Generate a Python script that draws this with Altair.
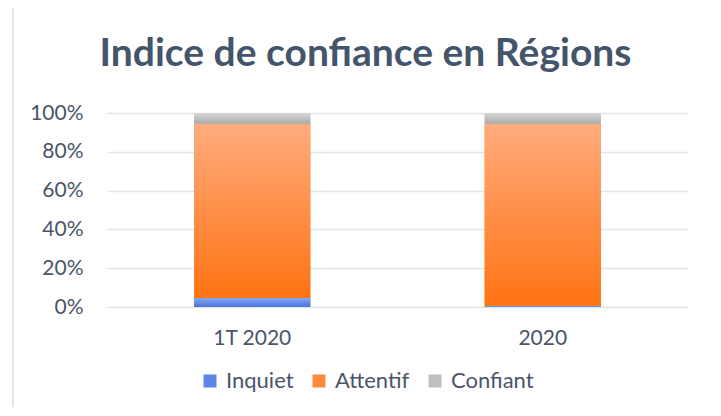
import altair as alt
import pandas as pd

periodes = ["1T 2020", "2020"]
series = ["Inquiet", "Attentif", "Confiant"]
inquiet = [4.6, 0.6]
attentif = [89.9, 93.9]
confiant = [5.5, 5.5]

solid = ["#5F86E6", "#FF8A3D", "#BFBFBF"]
grad_top = ["#86A7F6", "#FFAB7D", "#D9D9D9"]
grad_bot = ["#4A73D9", "#FF7313", "#A9A9A9"]

rows = []
for i, p in enumerate(periodes):
    for k, (s, vals) in enumerate(zip(series, [inquiet, attentif, confiant])):
        rows.append({"periode": p, "serie": s, "ordre": k, "valeur": vals[i]})
df = pd.DataFrame(rows)

FONT = "Lato"
TXT = "#4A5568"

xenc = alt.X("periode:N", sort=periodes, title=None,
             scale=alt.Scale(paddingInner=0.6, paddingOuter=0.3),
             axis=alt.Axis(labelAngle=0, domain=False, ticks=False, labelPadding=20,
                           labelFontSize=21, labelFont=FONT, labelColor=TXT, grid=False))

base = (alt.Chart(df)
        .transform_stack(stack="valeur", groupby=["periode"], as_=["s0", "s1"],
                         sort=[alt.SortField("ordre", order="ascending")])
        .transform_joinaggregate(total="sum(valeur)", groupby=["periode"])
        .transform_calculate(p0="datum.s0 / datum.total", p1="datum.s1 / datum.total"))

yenc = alt.Y("p0:Q", title=None,
             scale=alt.Scale(domain=[0, 1], nice=False),
             axis=alt.Axis(format=".0%", values=[0, 0.2, 0.4, 0.6, 0.8, 1.0],
                           domain=False, ticks=False, labelPadding=24,
                           labelFontSize=21, labelFont=FONT, labelColor=TXT,
                           gridColor="#E1E5EA", gridWidth=1.6))

legend_layer = base.mark_bar().encode(
    x=xenc, y=yenc, y2="p1:Q",
    color=alt.Color("serie:N", sort=series,
                    scale=alt.Scale(domain=series, range=solid),
                    legend=alt.Legend(title=None, orient="none", direction="horizontal",
                                      legendX=92, legendY=257, symbolType="square",
                                      symbolSize=170, symbolStrokeWidth=0,
                                      labelFontSize=22, labelFont=FONT, labelColor=TXT,
                                      labelOffset=5, columnPadding=14)),
)

layers = [legend_layer]
for k, s in enumerate(series):
    g = alt.LinearGradient(gradient="linear", x1=0, y1=0, x2=0, y2=1,
                           stops=[alt.GradientStop(offset=0, color=grad_top[k]),
                                  alt.GradientStop(offset=1, color=grad_bot[k])])
    layers.append(
        base.transform_filter(alt.datum.serie == s)
        .mark_bar(color=g)
        .encode(x=xenc, y=yenc, y2="p1:Q")
    )

border = alt.Chart(pd.DataFrame({"a": [0]})).mark_rect(
    fillOpacity=0, stroke="#DCDFE4", strokeWidth=1.5
).encode(x=alt.value(-94), x2=alt.value(609), y=alt.value(-106), y2=alt.value(320))

chart = alt.layer(border, *layers).properties(
    width=581, height=194,
    title=alt.Title("Indice de confiance en Régions", font=FONT, fontSize=39,
                    fontWeight="bold", color="#44546A", anchor="middle", dx=-32,
                    offset=-68),
    autosize=alt.AutoSizeParams(type="none"),
    padding={"left": 99, "top": 105, "right": 25, "bottom": 100},
).configure_view(stroke=None)

chart.save("out.html", embed_options={"renderer": "svg", "actions": False})
